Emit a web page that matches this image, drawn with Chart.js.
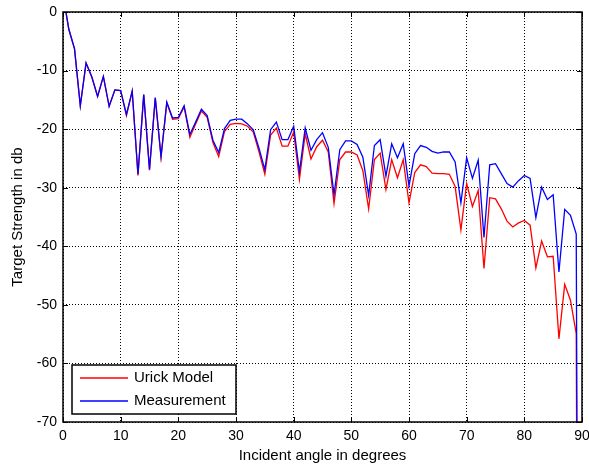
<!DOCTYPE html>
<html>
<head>
<meta charset="utf-8">
<script src="https://cdn.jsdelivr.net/npm/chart.js@4"></script>
<style>
  html, body { margin: 0; padding: 0; background: #fff; }
  #wrap { position: relative; width: 589px; height: 468px; }
</style>
</head>
<body>
<div id="wrap"><canvas id="chart" width="589" height="468"></canvas></div>
<script>
// incident angle, degrees
var angles = [];
for (var a = 0; a <= 90; a++) angles.push(a);

// target strength, dB (last point drops far below the axis)
var urickModel = [
  3, -2.9, -6.3, -16.0, -8.7, -11.1, -14.4, -11.0, -16.1, -13.3,
  -13.4, -17.7, -13.5, -27.9, -14.1, -27.0, -14.7, -24.8, -15.5, -18.3,
  -18.2, -16.2, -21.4, -19.1, -16.9, -18.0, -22.3, -24.7, -20.4, -19.2,
  -19.0, -19.1, -19.5, -20.5, -23.9, -27.7, -21.0, -19.8, -22.9, -22.9,
  -20.5, -28.6, -20.8, -25.1, -23.0, -21.9, -23.9, -32.7, -25.2, -23.9,
  -23.9, -24.4, -27.1, -33.6, -25.2, -24.1, -30.3, -25.2, -28.3, -25.2,
  -32.6, -27.4, -26.1, -26.4, -27.5, -27.6, -27.6, -27.7, -29.8, -37.2,
  -29.3, -33.2, -30.5, -43.8, -31.7, -31.9, -33.6, -35.7, -36.7, -36.0,
  -35.6, -36.4, -43.7, -39.1, -41.8, -41.7, -55.8, -46.5, -49.2, -54.9,
  -300
];
var measurement = [
  3, -2.9, -6.3, -16.0, -8.7, -11.1, -14.4, -11.0, -16.1, -13.3,
  -13.4, -17.5, -13.5, -27.7, -14.1, -26.9, -14.6, -24.7, -15.4, -18.1,
  -18.0, -16.0, -20.9, -18.8, -16.6, -17.7, -21.9, -24.0, -19.9, -18.5,
  -18.3, -18.3, -19.1, -20.1, -23.3, -26.9, -20.1, -18.8, -21.8, -21.8,
  -19.5, -27.3, -19.8, -23.6, -21.8, -20.6, -23.1, -31.2, -23.5, -22.0,
  -22.0, -22.6, -24.8, -31.3, -22.8, -21.8, -28.0, -22.5, -24.9, -22.5,
  -29.7, -24.2, -22.8, -23.1, -23.8, -24.1, -23.9, -23.9, -25.6, -32.6,
  -24.9, -28.4, -25.3, -38.5, -26.1, -25.9, -27.6, -29.3, -29.9, -28.8,
  -27.9, -28.4, -35.1, -29.9, -32.0, -31.2, -44.4, -33.7, -34.7, -37.9,
  -300
];

var xTicks = [0, 10, 20, 30, 40, 50, 60, 70, 80, 90];
var yTicks = [0, -10, -20, -30, -40, -50, -60, -70];

function pairs(ys) {
  return angles.map(function (x, i) { return { x: x, y: ys[i] }; });
}

Chart.defaults.font.family = '"Liberation Sans", Arial, sans-serif';
Chart.defaults.color = '#000';

// box round the axes with inward tick marks, plus the boxed legend
var framePlugin = {
  id: 'frame',
  afterDraw: function (chart) {
    var ctx = chart.ctx, ca = chart.chartArea;
    var xs = chart.scales.x, ys = chart.scales.y;
    ctx.save();
    ctx.strokeStyle = '#000';
    ctx.lineWidth = 1;
    ctx.beginPath();
    xTicks.forEach(function (t) {
      var px = Math.round(xs.getPixelForValue(t)) + 0.5;
      ctx.moveTo(px, ca.bottom); ctx.lineTo(px, ca.bottom - 5);
      ctx.moveTo(px, ca.top); ctx.lineTo(px, ca.top + 5);
    });
    yTicks.forEach(function (t) {
      var py = Math.round(ys.getPixelForValue(t)) + 0.5;
      ctx.moveTo(ca.left, py); ctx.lineTo(ca.left + 5, py);
      ctx.moveTo(ca.right, py); ctx.lineTo(ca.right - 5, py);
    });
    ctx.stroke();
    ctx.lineWidth = 1.5;
    ctx.strokeRect(ca.left, ca.top, ca.right - ca.left, ca.bottom - ca.top);

    // legend
    var bx = ca.left + 9, by = ca.bottom - 57, bw = 164, bh = 49;
    ctx.fillStyle = '#fff';
    ctx.fillRect(bx, by, bw, bh);
    ctx.lineWidth = 1.5;
    ctx.strokeStyle = '#000';
    ctx.strokeRect(bx, by, bw, bh);
    ctx.font = '15px "Liberation Sans", Arial, sans-serif';
    ctx.textBaseline = 'middle';
    chart.data.datasets.forEach(function (ds, i) {
      var ly = by + 13 + i * 23;
      ctx.strokeStyle = ds.borderColor;
      ctx.lineWidth = 1.3;
      ctx.beginPath();
      ctx.moveTo(bx + 8, ly); ctx.lineTo(bx + 56, ly);
      ctx.stroke();
      ctx.fillStyle = '#000';
      ctx.fillText(ds.label, bx + 62, ly);
    });
    ctx.restore();
  }
};

new Chart(document.getElementById('chart'), {
  type: 'line',
  data: {
    datasets: [{
      label: 'Urick Model',
      data: pairs(urickModel),
      borderColor: '#ff0000',
      borderWidth: 1.3,
      pointRadius: 0,
      order: 1
    }, {
      label: 'Measurement',
      data: pairs(measurement),
      borderColor: '#0000ff',
      borderWidth: 1.3,
      pointRadius: 0,
      order: 0
    }]
  },
  options: {
    responsive: false,
    animation: false,
    layout: { padding: { top: 12, right: 7, left: 0, bottom: 0 } },
    plugins: { legend: { display: false }, tooltip: { enabled: false } },
    scales: {
      x: {
        type: 'linear',
        min: 0,
        max: 90,
        afterBuildTicks: function (s) { s.ticks = xTicks.map(function (v) { return { value: v }; }); },
        afterFit: function (s) { s.height = 46; s.paddingLeft = 0; s.paddingRight = 0; },
        grid: { color: '#000', lineWidth: 1, drawTicks: false },
        border: { display: false, dash: [1, 2] },
        ticks: { font: { size: 14 }, padding: 6, maxRotation: 0 },
        title: { display: true, text: 'Incident angle in degrees', font: { size: 15 }, padding: { top: 0, bottom: 3 } }
      },
      y: {
        min: -70,
        max: 0,
        afterBuildTicks: function (s) { s.ticks = yTicks.map(function (v) { return { value: v }; }); },
        afterFit: function (s) { s.width = 63; s.paddingTop = 0; s.paddingBottom = 0; },
        grid: { color: '#000', lineWidth: 1, drawTicks: false },
        border: { display: false, dash: [1, 2] },
        ticks: { font: { size: 14 }, padding: 6 },
        title: { display: true, text: 'Target Strength in db', font: { size: 15 }, padding: { top: 9, bottom: 0 } }
      }
    }
  },
  plugins: [framePlugin]
});
</script>
</body>
</html>
